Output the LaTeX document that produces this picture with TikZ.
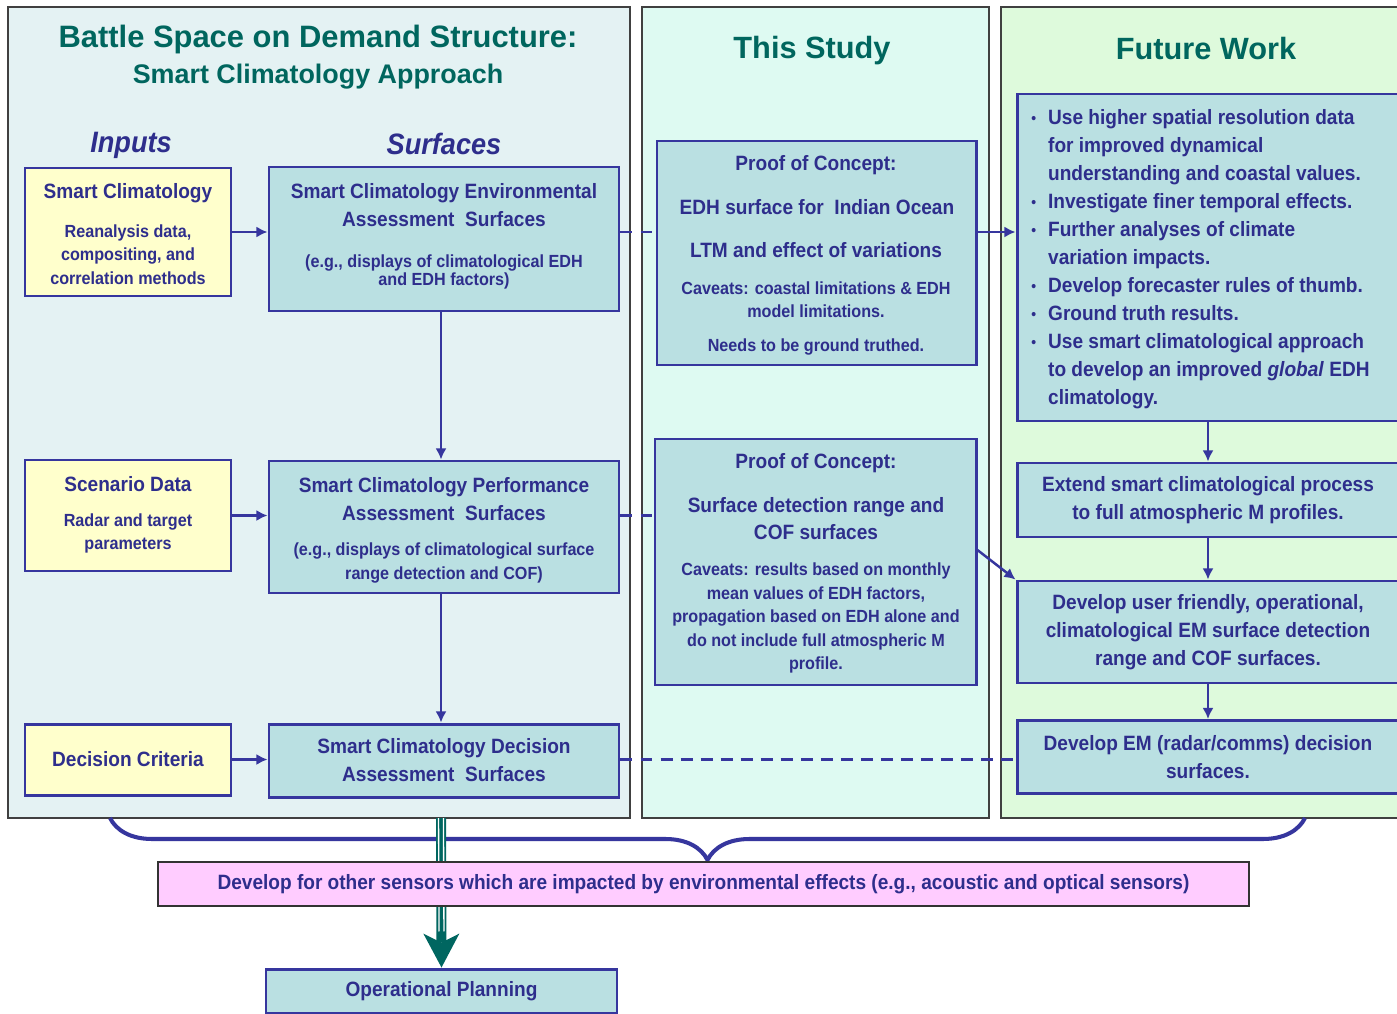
\documentclass[tikz,border=0pt]{standalone}
\usepackage{fontspec}
\usepackage{xcolor}
\usetikzlibrary{
    arrows.meta,
    decorations.pathreplacing,
    calc
}
\setmainfont{Liberation Sans}
\newfontfamily\boxfont{Liberation Sans}[FakeStretch=0.92]
\newlength\pxu
\setlength\pxu{0.02cm}
\newcommand\mainsz{\fontsize{11.8}{15.9}\selectfont}
\newcommand\notesz{\fontsize{10}{13.4}\selectfont}
\newcommand\colsz{\fontsize{16.8}{20}\selectfont}
\newcommand\headsz{\fontsize{17.5}{21}\selectfont}
\newcommand\fwdot{\raisebox{0.6pt}{\fontsize{8.5}{8.5}\selectfont\textbullet}}
\definecolor{navytext}{RGB}{46,46,140}
\definecolor{boxline}{RGB}{54,54,158}
\definecolor{headteal}{RGB}{0,102,94}
\definecolor{boxblue}{RGB}{186,224,226}
\definecolor{leftbg}{RGB}{228,242,243}
\definecolor{midbg}{RGB}{222,250,242}
\definecolor{rightbg}{RGB}{222,250,220}
\definecolor{inyellow}{RGB}{255,255,204}
\definecolor{sensorpink}{RGB}{255,204,255}
\definecolor{opteal}{RGB}{0,102,96}

\begin{document}
\begin{tikzpicture}[x=0.02cm, y=-0.02cm,
    panel/.style={draw=black!75, line width=0.85pt},
    box/.style={draw=boxline, line width=1.7pt, fill=boxblue, inner sep=0pt,
        text=navytext, align=center, font=\boxfont\bfseries\mainsz},
    inbox/.style={box, fill=inyellow},
    txt/.style={text=navytext, align=center, inner sep=0pt, font=\boxfont\bfseries\mainsz},
    note/.style={txt, font=\boxfont\bfseries\notesz},
    colhead/.style={txt, font=\boxfont\bfseries\itshape\colsz},
    head/.style={text=headteal, align=center, inner sep=0pt, font=\bfseries\headsz},
    flow/.style={draw=boxline, line width=1.4pt, -{Latex[length=6.3pt, width=6.3pt]}},
    link/.style={draw=boxline, line width=1.4pt, dash pattern=on 6.8pt off 4.6pt},
    sumbrace/.style={draw=boxline, line width=2.3pt, decorate,
        decoration={brace, mirror, amplitude=23.9pt}},
    opflow/.style={draw=opteal, line width=5.7pt,
        -{Stealth[length=19.3pt, width=20.5pt, inset=5.1pt, line width=0pt]}}
]
    \useasboundingbox (0,0) rectangle (1397,1014);
    \fill[white] (0,0) rectangle (1397,1014);

    \draw[panel, fill=leftbg] (8,7) rectangle (630,818);
    \draw[panel, fill=midbg] (642,7) rectangle (989,818);
    \draw[panel, fill=rightbg] (1001,7) rectangle (1405,818);

    \node[head, font=\bfseries\fontsize{17.6}{21}\selectfont] (bsod) at (318,40) {Battle Space on Demand Structure:};
    \node[head, font=\bfseries\fontsize{15.3}{21}\selectfont] (scapp) at (318,77) {Smart Climatology Approach};
    \node[head] (study) at (812,51) {This Study};
    \node[head] (future) at (1206,49) {Future Work};
    \node[colhead] (inputs) at (131,145) {Inputs};
    \node[colhead] (surfaces) at (444,144) {Surfaces};

    \node[inbox, minimum width=206\pxu, minimum height=128\pxu] (smartin) at (128,232) {};
    \node[txt] (smartinhead) at (128,193) {Smart Climatology};
    \node[note] (smartinnote) at (128,254.5) {Reanalysis data,\\compositing, and\\correlation methods};

    \node[inbox, minimum width=206\pxu, minimum height=111\pxu] (scenin) at (128,515.5) {};
    \node[txt] (sceninhead) at (128,484) {Scenario Data};
    \node[note] (scenininnote) at (128,533.5) {Radar and target\\parameters};

    \node[inbox, minimum width=206\pxu, minimum height=71\pxu] (decin) at (128,759.5) {Decision Criteria};

    \node[box, minimum width=350\pxu, minimum height=144\pxu] (envsurf) at (444,239) {};
    \node[txt] (envhead) at (444,205) {Smart Climatology Environmental\\Assessment\ \ Surfaces};
    \node[note, font=\boxfont\bfseries\fontsize{10}{10.4}\selectfont] (envnote) at (444,272) {(e.g., displays of climatological EDH\\and EDH factors)};

    \node[box, minimum width=350\pxu, minimum height=132\pxu] (perfsurf) at (444,527) {};
    \node[txt] (perfhead) at (444,499) {Smart Climatology Performance\\Assessment\ \ Surfaces};
    \node[note] (perfnote) at (444,563) {(e.g., displays of climatological surface\\range detection and COF)};

    \node[box, minimum width=350\pxu, minimum height=73\pxu] (decsurf) at (444,760.5) {Smart Climatology Decision\\Assessment\ \ Surfaces};

    \node[box, minimum width=319\pxu, minimum height=224\pxu] (edhproof) at (816.5,253) {};
    \node[txt] (edhpoc) at (816,165) {Proof of Concept:};
    \node[txt] (edhsurf) at (817,207) {EDH surface for\ \ Indian Ocean};
    \node[txt] (edhltm) at (816,250) {LTM and effect of variations};
    \node[note] (edhcav) at (816,299.5) {Caveats: coastal limitations \& EDH\\model limitations.};
    \node[note] (edhneeds) at (816,347) {Needs to be ground truthed.};

    \node[box, minimum width=321\pxu, minimum height=246\pxu] (cofproof) at (815.5,562) {};
    \node[txt] (cofpoc) at (816,463) {Proof of Concept:};
    \node[txt, font=\boxfont\bfseries\fontsize{11.8}{15.3}\selectfont] (cofsurf) at (816,519) {Surface detection range and\\COF surfaces};
    \node[note] (cofcav) at (816,618) {Caveats: results based on monthly\\mean values of EDH factors,\\propagation based on EDH alone and\\do not include full atmospheric M\\profile.};

    \node[box, minimum width=382\pxu, minimum height=327\pxu] (futurelist) at (1208,257.5) {};
    \node[txt, align=left, anchor=west] (futuretext) at (1031,259) {%
        \begin{tabular}{@{}c@{\hspace{12\pxu}}l@{}}
            \fwdot & Use higher spatial resolution data\\
                   & for improved dynamical\\
                   & understanding and coastal values.\\
            \fwdot & Investigate finer temporal effects.\\
            \fwdot & Further analyses of climate\\
                   & variation impacts.\\
            \fwdot & Develop forecaster rules of thumb.\\
            \fwdot & Ground truth results.\\
            \fwdot & Use smart climatological approach\\
                   & to develop an improved \textit{global} EDH\\
                   & climatology.
        \end{tabular}};
    \node[box, minimum width=382\pxu, minimum height=74\pxu] (extend) at (1208,500) {Extend smart climatological process\\to full atmospheric M profiles.};
    \node[box, minimum width=382\pxu, minimum height=102\pxu] (userops) at (1208,632) {Develop user friendly, operational,\\climatological EM surface detection\\range and COF surfaces.};
    \node[box, minimum width=382\pxu, minimum height=73\pxu] (emdec) at (1208,757) {Develop EM (radar/comms) decision\\surfaces.};

    \draw
    (smartin.east) edge[flow] (smartin.east -| envsurf.west)
    (scenin.east) edge[flow] (scenin.east -| perfsurf.west)
    (decin.east) edge[flow] (decin.east -| decsurf.west)
    ([xshift=-1.7pt]envsurf.south) edge[flow] ([xshift=-1.7pt]perfsurf.north)
    ([xshift=-1.7pt]perfsurf.south) edge[flow] ([xshift=-1.7pt]decsurf.north)
    (smartin.east -| envsurf.east) edge[link] (smartin.east -| edhproof.west)
    (scenin.east -| perfsurf.east) edge[link] (scenin.east -| cofproof.west)
    (decin.east -| decsurf.east) edge[link] (decin.east -| emdec.west)
    (smartin.east -| edhproof.east) edge[flow] (smartin.east -| futurelist.west)
    ([yshift=6.8pt]cofproof.east) edge[flow] (userops.north west)
    (futurelist.south) edge[flow] (extend.north)
    (extend.south) edge[flow] (userops.north)
    (userops.south) edge[flow] (emdec.north);

    \draw[sumbrace] (110,818) -- (1305,818);

    \node[box, minimum width=351\pxu, minimum height=44\pxu] (oplan) at (441.5,991) {Operational Planning};
    \coordinate (split) at (441,818);
    \draw[opflow] (split) -- (oplan.north);
    \foreach \dx in {-1.4pt,1.4pt}
        \draw[white, line width=0.75pt] ([xshift=\dx]split) -- ([xshift=\dx, yshift=20.5pt]oplan.north);
    \node[box, fill=sensorpink, draw=black!80, line width=0.85pt, minimum width=1091\pxu, minimum height=44\pxu] (sensors) at (703.5,884) {Develop for other sensors which are impacted by environmental effects (e.g., acoustic and optical sensors)};
\end{tikzpicture}
\end{document}
